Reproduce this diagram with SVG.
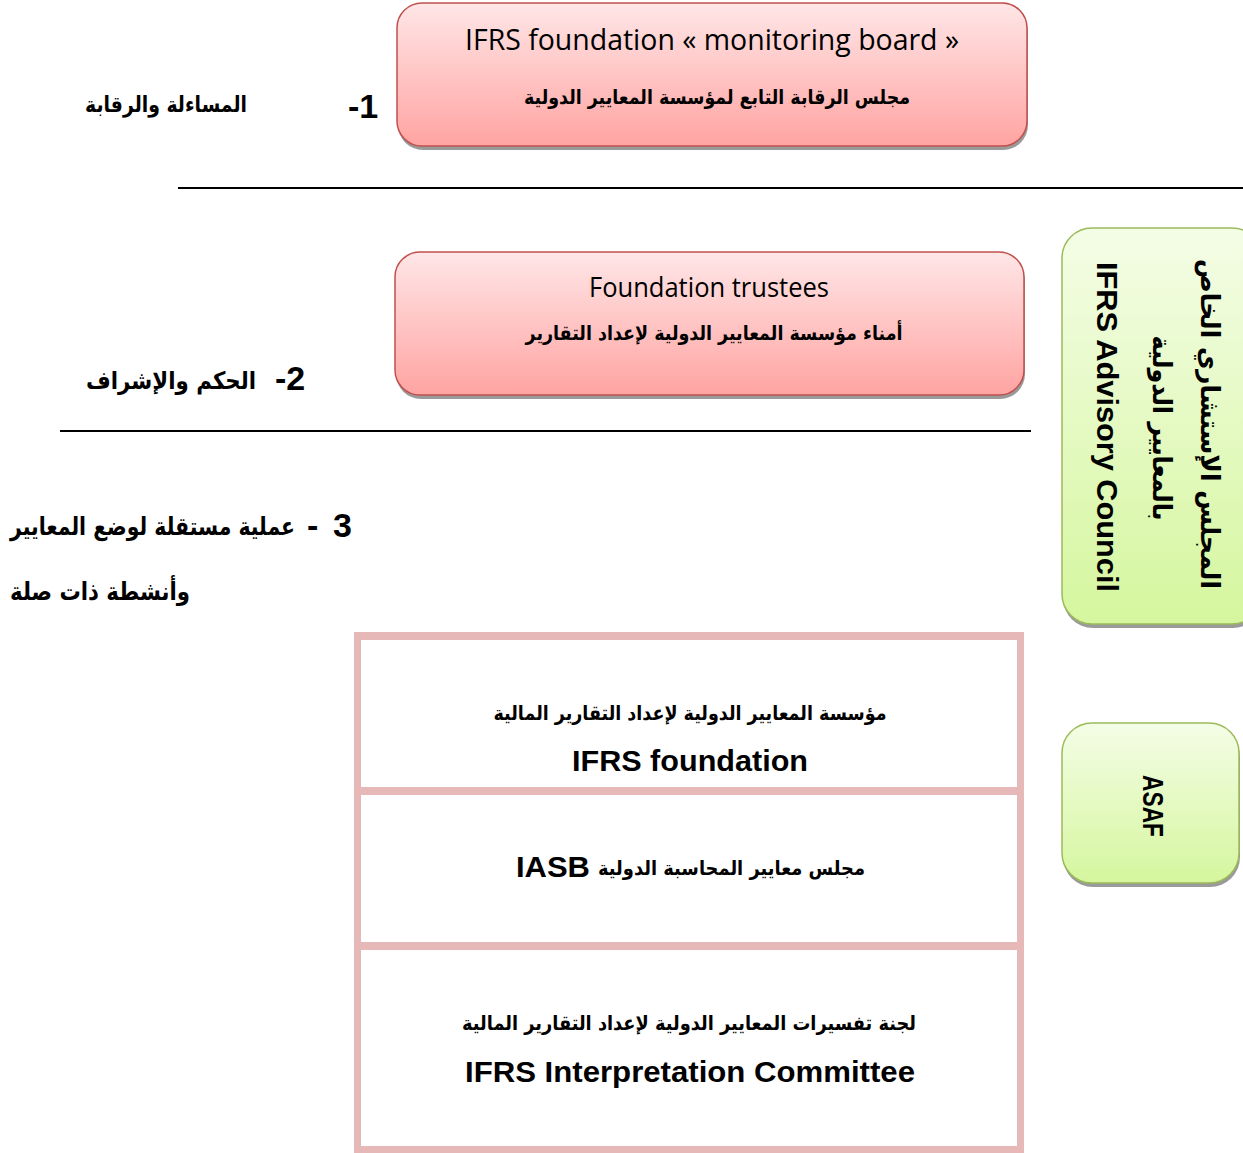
<svg xmlns="http://www.w3.org/2000/svg" width="1243" height="1153" viewBox="0 0 1243 1153">
<defs>
<linearGradient id="pink" x1="0" y1="0" x2="0" y2="1">
<stop offset="0" stop-color="#ffe6e7"/>
<stop offset="1" stop-color="#ffa4a2"/>
</linearGradient>
<linearGradient id="green" x1="0" y1="0" x2="0" y2="1">
<stop offset="0" stop-color="#f4fde6"/>
<stop offset="1" stop-color="#d5f69e"/>
</linearGradient>
</defs>
<style>
.shadow{fill:#9a9a9a}
.pinkbox{fill:url(#pink);stroke:#c0504d;stroke-width:1.5}
.greenbox{fill:url(#green);stroke:#9bbb59;stroke-width:1.5}
.ar{font-family:"DejaVu Sans",sans-serif;font-weight:bold;fill:#000}
.en{font-family:"Open Sans","Liberation Sans",sans-serif;fill:#000}
.enb{font-family:"Liberation Sans",Arial,sans-serif;font-weight:bold;fill:#000}
.rule{stroke:#000;stroke-width:2}
.cellbg{fill:#e6b8b7}
.cell{fill:#fff}
</style>
<rect width="1243" height="1153" fill="#fff"/>

<g id="connectors">
<line class="rule" x1="178" y1="188" x2="1243" y2="188"/>
<line class="rule" x1="60" y1="431" x2="1031" y2="431"/>
</g>

<g id="label1">
<text class="enb" x="348" y="118" font-size="34">-1</text>
<text class="ar" x="247" y="112" font-size="22" text-anchor="end" textLength="162" lengthAdjust="spacingAndGlyphs">المساءلة والرقابة</text>
</g>

<g id="monitoring-board">
<rect class="shadow" x="398" y="7" width="630" height="143" rx="25"/>
<rect class="pinkbox" x="397" y="3" width="630" height="143" rx="25"/>
<text class="en" x="712" y="50" font-size="29" text-anchor="middle" textLength="494" lengthAdjust="spacingAndGlyphs">IFRS foundation « monitoring  board »</text>
<text class="ar" x="717" y="104" font-size="20" text-anchor="middle" textLength="386" lengthAdjust="spacingAndGlyphs">مجلس الرقابة التابع لمؤسسة المعايير الدولية</text>
</g>

<g id="trustees">
<rect class="shadow" x="396" y="256" width="629" height="143" rx="25"/>
<rect class="pinkbox" x="395" y="252" width="629" height="143" rx="25"/>
<text class="en" x="709" y="297" font-size="28" text-anchor="middle" textLength="240" lengthAdjust="spacingAndGlyphs">Foundation trustees</text>
<text class="ar" x="714" y="340" font-size="20" text-anchor="middle" textLength="377" lengthAdjust="spacingAndGlyphs">أمناء مؤسسة المعايير الدولية لإعداد التقارير</text>
</g>

<g id="label2">
<text class="enb" x="275" y="390" font-size="34">-2</text>
<text class="ar" x="256" y="389" font-size="24" text-anchor="end" textLength="170" lengthAdjust="spacingAndGlyphs">الحكم والإشراف</text>
</g>

<g id="label3">
<text class="enb" x="307" y="537" font-size="34" textLength="45" lengthAdjust="spacing">- 3</text>
<text class="ar" x="295" y="535" font-size="25" text-anchor="end" textLength="285" lengthAdjust="spacingAndGlyphs">عملية مستقلة لوضع المعايير</text>
<text class="ar" x="190" y="600" font-size="25" text-anchor="end" textLength="180" lengthAdjust="spacingAndGlyphs">وأنشطة ذات صلة</text>
</g>

<g id="standard-setting">
<rect class="cellbg" x="354" y="632" width="670" height="521"/>
<g id="ifrs-foundation">
<rect class="cell" x="361" y="640" width="656" height="147"/>
<text class="ar" x="690" y="720" font-size="20" text-anchor="middle" textLength="393" lengthAdjust="spacingAndGlyphs">مؤسسة المعايير الدولية لإعداد التقارير المالية</text>
<text class="enb" x="690" y="771" font-size="29" text-anchor="middle" textLength="236" lengthAdjust="spacingAndGlyphs">IFRS foundation</text>
</g>
<g id="iasb">
<rect class="cell" x="361" y="795" width="656" height="147"/>
<text class="ar" x="865" y="875" font-size="20" text-anchor="end" textLength="267" lengthAdjust="spacingAndGlyphs">مجلس معايير المحاسبة الدولية</text>
<text class="enb" x="516" y="877" font-size="30" textLength="74" lengthAdjust="spacingAndGlyphs">IASB</text>
</g>
<g id="interpretation-committee">
<rect class="cell" x="361" y="950" width="656" height="196"/>
<text class="ar" x="689" y="1030" font-size="20" text-anchor="middle" textLength="454" lengthAdjust="spacingAndGlyphs">لجنة تفسيرات المعايير الدولية لإعداد التقارير المالية</text>
<text class="enb" x="690" y="1082" font-size="29" text-anchor="middle" textLength="450" lengthAdjust="spacingAndGlyphs">IFRS Interpretation Committee</text>
</g>
</g>

<g id="advisory-council">
<rect class="shadow" x="1063" y="232" width="200" height="396" rx="30"/>
<rect class="greenbox" x="1062" y="228" width="200" height="396" rx="30"/>
<text class="enb" transform="translate(1097,427) rotate(90)" x="0" y="0" font-size="30" text-anchor="middle" textLength="330" lengthAdjust="spacingAndGlyphs">IFRS Advisory Council</text>
<text class="ar" transform="translate(1201,424) rotate(90)" x="0" y="0" font-size="26" text-anchor="middle" textLength="330" lengthAdjust="spacingAndGlyphs">المجلس الإستشاري الخاص</text>
<text class="ar" transform="translate(1153,428) rotate(90)" x="0" y="0" font-size="26" text-anchor="middle" textLength="185" lengthAdjust="spacingAndGlyphs">بالمعايير الدولية</text>
</g>

<g id="asaf">
<rect class="shadow" x="1063" y="727" width="177" height="160" rx="30"/>
<rect class="greenbox" x="1062" y="723" width="177" height="160" rx="30"/>
<text class="enb" transform="translate(1143,806) rotate(90)" x="0" y="0" font-size="29" text-anchor="middle" textLength="62" lengthAdjust="spacingAndGlyphs">ASAF</text>
</g>
</svg>
